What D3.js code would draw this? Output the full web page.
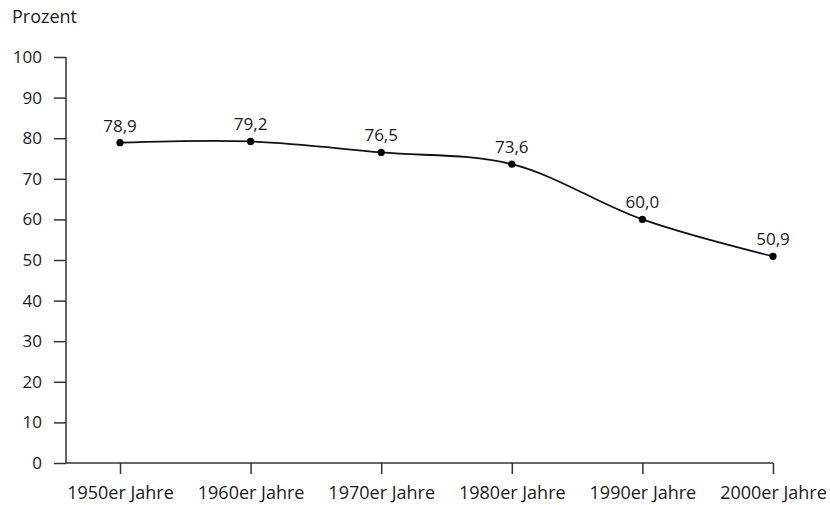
<!DOCTYPE html>
<html>
<head>
<meta charset="utf-8">
<script src="https://cdn.jsdelivr.net/npm/d3@7"></script>
<style>
  body { margin: 0; background: #fff; }
  text { font-family: "Open Sans", "Noto Sans", sans-serif; fill: #1a1a1a; }
</style>
</head>
<body>
<svg id="chart" width="830" height="505"></svg>
<script>
// Data
var decades = ['1950er Jahre', '1960er Jahre', '1970er Jahre', '1980er Jahre', '1990er Jahre', '2000er Jahre'];
var values = [78.9, 79.2, 76.5, 73.6, 60.0, 50.9];
var yTicks = [0, 10, 20, 30, 40, 50, 60, 70, 80, 90, 100];

var svg = d3.select('#chart');
var fmt = function(v) { return v.toFixed(1).replace('.', ','); };

var x = d3.scalePoint().domain(decades).range([120, 773]);
var y = d3.scaleLinear().domain([0, 100]).range([463, 57]);

// y axis
var yAxis = svg.append('g')
	.attr('transform', 'translate(66,0)')
	.call(d3.axisLeft(y).tickValues(yTicks).tickSize(12).tickPadding(12));
yAxis.select('.domain').remove();
yAxis.append('line')
	.attr('x1', 0).attr('x2', 0)
	.attr('y1', y(100)).attr('y2', y(0))
	.attr('stroke', '#333').attr('stroke-width', 1.5);
yAxis.selectAll('.tick text').style('font-size', '17px');

// x axis
var xAxis = svg.append('g')
	.attr('transform', 'translate(0,' + y(0) + ')')
	.call(d3.axisBottom(x).tickSize(11).tickPadding(12).tickSizeOuter(0));
xAxis.select('.domain').remove();
xAxis.append('line')
	.attr('x1', 66).attr('x2', x(decades[decades.length - 1]))
	.attr('stroke', '#333').attr('stroke-width', 1.5);
xAxis.selectAll('.tick text').style('font-size', '18px');

svg.selectAll('.tick line').attr('stroke', '#333').attr('stroke-width', 1.5);
svg.selectAll('.tick text').attr('fill', '#1a1a1a');

// unit label
svg.append('text')
	.attr('x', 12).attr('y', 23)
	.style('font-size', '18px')
	.text('Prozent');

// line
var line = d3.line()
	.x(function(d, i) { return x(decades[i]); })
	.y(function(d) { return y(d); })
	.curve(d3.curveCatmullRom.alpha(0.5));

svg.append('path')
	.datum(values)
	.attr('d', line)
	.attr('fill', 'none')
	.attr('stroke', '#111')
	.attr('stroke-width', 1.8);

svg.selectAll('circle.dot').data(values).enter().append('circle')
	.attr('class', 'dot')
	.attr('cx', function(d, i) { return x(decades[i]); })
	.attr('cy', function(d) { return y(d); })
	.attr('r', 3.6)
	.attr('fill', '#000');

svg.selectAll('text.val').data(values).enter().append('text')
	.attr('class', 'val')
	.attr('x', function(d, i) { return x(decades[i]); })
	.attr('y', function(d) { return y(d) - 11; })
	.attr('text-anchor', 'middle')
	.style('font-size', '17px')
	.text(fmt);
</script>
</body>
</html>
